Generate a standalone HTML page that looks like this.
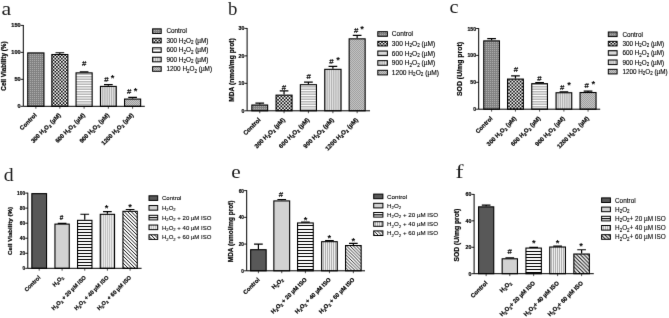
<!DOCTYPE html><html><head><meta charset="utf-8"><title>Figure</title>
<style>html,body{margin:0;padding:0;background:#fff}body{width:669px;height:318px;overflow:hidden}svg{display:block}
.s{font-family:"Liberation Sans",sans-serif}.b{font-family:"Liberation Sans",sans-serif;font-weight:bold}.r{font-family:"Liberation Serif",serif}
</style></head><body>
<svg width="669" height="318" viewBox="0 0 669 318">
<defs>
<pattern id="pdot" width="2" height="2" patternUnits="userSpaceOnUse"><rect width="2" height="2" fill="#828282"/><rect x="0" y="0" width="1" height="1" fill="#adadad"/></pattern>
<pattern id="pchk" width="33" height="33" patternUnits="userSpaceOnUse"><rect width="33" height="33" fill="#fff"/><path d="M0 0.825H34.65" stroke="#0c0c0c" stroke-width="1.65" stroke-dasharray="1.65 1.65" fill="none"/><path d="M1.65 2.475H34.65" stroke="#0c0c0c" stroke-width="1.65" stroke-dasharray="1.65 1.65" fill="none"/><path d="M0 4.125H34.65" stroke="#0c0c0c" stroke-width="1.65" stroke-dasharray="1.65 1.65" fill="none"/><path d="M1.65 5.775H34.65" stroke="#0c0c0c" stroke-width="1.65" stroke-dasharray="1.65 1.65" fill="none"/><path d="M0 7.425H34.65" stroke="#0c0c0c" stroke-width="1.65" stroke-dasharray="1.65 1.65" fill="none"/><path d="M1.65 9.075H34.65" stroke="#0c0c0c" stroke-width="1.65" stroke-dasharray="1.65 1.65" fill="none"/><path d="M0 10.725H34.65" stroke="#0c0c0c" stroke-width="1.65" stroke-dasharray="1.65 1.65" fill="none"/><path d="M1.65 12.375H34.65" stroke="#0c0c0c" stroke-width="1.65" stroke-dasharray="1.65 1.65" fill="none"/><path d="M0 14.025H34.65" stroke="#0c0c0c" stroke-width="1.65" stroke-dasharray="1.65 1.65" fill="none"/><path d="M1.65 15.675H34.65" stroke="#0c0c0c" stroke-width="1.65" stroke-dasharray="1.65 1.65" fill="none"/><path d="M0 17.325H34.65" stroke="#0c0c0c" stroke-width="1.65" stroke-dasharray="1.65 1.65" fill="none"/><path d="M1.65 18.975H34.65" stroke="#0c0c0c" stroke-width="1.65" stroke-dasharray="1.65 1.65" fill="none"/><path d="M0 20.625H34.65" stroke="#0c0c0c" stroke-width="1.65" stroke-dasharray="1.65 1.65" fill="none"/><path d="M1.65 22.275H34.65" stroke="#0c0c0c" stroke-width="1.65" stroke-dasharray="1.65 1.65" fill="none"/><path d="M0 23.925H34.65" stroke="#0c0c0c" stroke-width="1.65" stroke-dasharray="1.65 1.65" fill="none"/><path d="M1.65 25.575H34.65" stroke="#0c0c0c" stroke-width="1.65" stroke-dasharray="1.65 1.65" fill="none"/><path d="M0 27.225H34.65" stroke="#0c0c0c" stroke-width="1.65" stroke-dasharray="1.65 1.65" fill="none"/><path d="M1.65 28.875H34.65" stroke="#0c0c0c" stroke-width="1.65" stroke-dasharray="1.65 1.65" fill="none"/><path d="M0 30.525H34.65" stroke="#0c0c0c" stroke-width="1.65" stroke-dasharray="1.65 1.65" fill="none"/><path d="M1.65 32.175H34.65" stroke="#0c0c0c" stroke-width="1.65" stroke-dasharray="1.65 1.65" fill="none"/></pattern>
<pattern id="phor" width="2" height="5" patternUnits="userSpaceOnUse"><rect width="2" height="5" fill="#fff"/><rect x="0" y="1" width="2" height="1" fill="#b8b8b8"/><rect x="0" y="2" width="2" height="2" fill="#dadada"/><rect x="0" y="4" width="2" height="1" fill="#b8b8b8"/></pattern>
<pattern id="pver" width="11.000" height="10" patternUnits="userSpaceOnUse"><rect width="11.000" height="10" fill="#eaeaea"/><path d="M0.90 0v10h1.30v-10zM3.10 0v10h1.30v-10zM5.30 0v10h1.30v-10zM7.50 0v10h1.30v-10zM9.70 0v10h1.30v-10z" fill="#b4b4b4"/></pattern>
<pattern id="pdia" width="4" height="4" patternUnits="userSpaceOnUse"><rect width="4" height="4" fill="#9c9c9c"/><path d="M-1.00 -7.00L5.00 -13.00M-1.00 -5.00L5.00 -11.00M-1.00 -3.00L5.00 -9.00M-1.00 -1.00L5.00 -7.00M-1.00 1.00L5.00 -5.00M-1.00 3.00L5.00 -3.00M-1.00 5.00L5.00 -1.00M-1.00 7.00L5.00 1.00M-1.00 9.00L5.00 3.00" stroke="#e4e4e4" stroke-width="0.6" fill="none"/></pattern>
<pattern id="phorb" width="2" height="4" patternUnits="userSpaceOnUse"><rect width="2" height="4" fill="#fff"/><rect x="0" y="0" width="2" height="1.8" fill="#111"/></pattern>
<pattern id="pverb" width="2" height="2" patternUnits="userSpaceOnUse"><rect width="2" height="2" fill="#fff"/><rect x="0.8" y="0" width="1.2" height="2" fill="#b0b0b0"/></pattern>
<pattern id="pdiabd" width="7" height="7" patternUnits="userSpaceOnUse"><rect width="7" height="7" fill="#fff"/><path d="M-1.00 -22.00L8.00 -13.00M-1.00 -18.50L8.00 -9.50M-1.00 -15.00L8.00 -6.00M-1.00 -11.50L8.00 -2.50M-1.00 -8.00L8.00 1.00M-1.00 -4.50L8.00 4.50M-1.00 -1.00L8.00 8.00M-1.00 2.50L8.00 11.50M-1.00 6.00L8.00 15.00" stroke="#000" stroke-width="0.92" fill="none"/></pattern>
<pattern id="pdiabe" width="6.5" height="6.5" patternUnits="userSpaceOnUse"><rect width="6.5" height="6.5" fill="#fff"/><path d="M-1.00 -20.50L7.50 -12.00M-1.00 -17.25L7.50 -8.75M-1.00 -14.00L7.50 -5.50M-1.00 -10.75L7.50 -2.25M-1.00 -7.50L7.50 1.00M-1.00 -4.25L7.50 4.25M-1.00 -1.00L7.50 7.50M-1.00 2.25L7.50 10.75M-1.00 5.50L7.50 14.00" stroke="#000" stroke-width="0.86" fill="none"/></pattern>
<pattern id="pdiabf" width="7.4" height="7.4" patternUnits="userSpaceOnUse"><rect width="7.4" height="7.4" fill="#fff"/><path d="M-1.00 -23.20L8.40 -13.80M-1.00 -19.50L8.40 -10.10M-1.00 -15.80L8.40 -6.40M-1.00 -12.10L8.40 -2.70M-1.00 -8.40L8.40 1.00M-1.00 -4.70L8.40 4.70M-1.00 -1.00L8.40 8.40M-1.00 2.70L8.40 12.10M-1.00 6.40L8.40 15.80" stroke="#000" stroke-width="0.98" fill="none"/></pattern>
<pattern id="pverbd" width="2" height="2" patternUnits="userSpaceOnUse"><rect width="2" height="2" fill="#fff"/><rect x="0.7" y="0" width="1.3" height="2" fill="#c2c2c2"/></pattern>
<filter id="soft" x="0" y="0" width="669" height="318" filterUnits="userSpaceOnUse" color-interpolation-filters="sRGB"><feConvolveMatrix order="3" kernelMatrix="0 1 0 1 11 1 0 1 0" edgeMode="duplicate" preserveAlpha="true"/></filter>
</defs>
<g filter="url(#soft)">
<rect width="669" height="318" fill="#fff"/>
<g>
<text class="r" transform="translate(1.5 14.7) scale(1.18 1)" font-size="18.5" fill="#1c1c1c">a</text>
<rect x="27.75" y="52.92" width="16.20" height="53.38" fill="url(#pdot)" stroke="#000" stroke-width="1.10"/>
<path d="M35.85 106.30V108.70" stroke="#222" stroke-width="0.8"/>
<path d="M59.85 53.98V52.74M55.50 52.74H64.20" stroke="#000" stroke-width="1.2" fill="none"/>
<rect x="51.85" y="54.53" width="16.00" height="51.77" fill="url(#pchk)" stroke="#000" stroke-width="1.10"/>
<path d="M59.85 106.30V108.70" stroke="#222" stroke-width="0.8"/>
<path d="M84.10 72.32V71.88M79.75 71.88H88.45" stroke="#000" stroke-width="1.2" fill="none"/>
<rect x="76.05" y="72.87" width="16.10" height="33.43" fill="url(#phor)" stroke="#000" stroke-width="1.10"/>
<path d="M84.10 106.30V108.70" stroke="#222" stroke-width="0.8"/>
<path d="M108.35 85.86V84.56M104.00 84.56H112.70" stroke="#000" stroke-width="1.2" fill="none"/>
<rect x="100.45" y="86.41" width="15.80" height="19.89" fill="url(#pver)" stroke="#000" stroke-width="1.10"/>
<path d="M108.35 106.30V108.70" stroke="#222" stroke-width="0.8"/>
<path d="M132.60 98.53V97.34M128.25 97.34H136.95" stroke="#000" stroke-width="1.2" fill="none"/>
<rect x="124.55" y="99.08" width="16.10" height="7.22" fill="url(#pdia)" stroke="#000" stroke-width="1.10"/>
<path d="M132.60 106.30V108.70" stroke="#222" stroke-width="0.8"/>
<path d="M23.30 25.00V106.30H144.80" stroke="#000" stroke-width="1" fill="none"/>
<path d="M20.70 106.30H23.30" stroke="#000" stroke-width="0.9"/>
<text class="b" transform="translate(20.60 108.33) scale(0.90 1)" font-size="6.20" text-anchor="end" fill="#000" stroke="#000" stroke-width="0.2">0</text>
<path d="M20.70 79.33H23.30" stroke="#000" stroke-width="0.9"/>
<text class="b" transform="translate(20.60 81.37) scale(0.90 1)" font-size="6.20" text-anchor="end" fill="#000" stroke="#000" stroke-width="0.2">50</text>
<path d="M20.70 52.37H23.30" stroke="#000" stroke-width="0.9"/>
<text class="b" transform="translate(20.60 54.40) scale(0.90 1)" font-size="6.20" text-anchor="end" fill="#000" stroke="#000" stroke-width="0.2">100</text>
<path d="M20.70 25.40H23.30" stroke="#000" stroke-width="0.9"/>
<text class="b" transform="translate(20.60 27.43) scale(0.90 1)" font-size="6.20" text-anchor="end" fill="#000" stroke="#000" stroke-width="0.2">150</text>
<text class="b" transform="translate(6.40 66.00) rotate(-90)" font-size="6.35" text-anchor="middle" fill="#000" stroke="#000" stroke-width="0.2">Cell Viability (%)</text>
<text class="b" transform="translate(37.05 115.60) rotate(-45)" font-size="5.95" text-anchor="end" fill="#000" stroke="#000" stroke-width="0.2">Control</text>
<text class="b" transform="translate(61.05 115.60) rotate(-45)" font-size="5.95" text-anchor="end" fill="#000" stroke="#000" stroke-width="0.2">300 H<tspan dy="1.31" font-size="4.17">2</tspan><tspan dy="-1.31">O</tspan><tspan dy="1.31" font-size="4.17">2</tspan><tspan dy="-1.31"> (µM)</tspan></text>
<text class="b" transform="translate(85.30 115.60) rotate(-45)" font-size="5.95" text-anchor="end" fill="#000" stroke="#000" stroke-width="0.2">600 H<tspan dy="1.31" font-size="4.17">2</tspan><tspan dy="-1.31">O</tspan><tspan dy="1.31" font-size="4.17">2</tspan><tspan dy="-1.31"> (µM)</tspan></text>
<text class="b" transform="translate(109.55 115.60) rotate(-45)" font-size="5.95" text-anchor="end" fill="#000" stroke="#000" stroke-width="0.2">900 H<tspan dy="1.31" font-size="4.17">2</tspan><tspan dy="-1.31">O</tspan><tspan dy="1.31" font-size="4.17">2</tspan><tspan dy="-1.31"> (µM)</tspan></text>
<text class="b" transform="translate(133.80 115.60) rotate(-45)" font-size="5.95" text-anchor="end" fill="#000" stroke="#000" stroke-width="0.2">1200 H<tspan dy="1.31" font-size="4.17">2</tspan><tspan dy="-1.31">O</tspan><tspan dy="1.31" font-size="4.17">2</tspan><tspan dy="-1.31"> (µM)</tspan></text>
<rect x="152.60" y="28.85" width="8.60" height="4.60" fill="url(#pdot)" stroke="#000" stroke-width="1.00"/>
<text class="s" x="166.40" y="33.45" font-size="6.40" fill="#000" stroke="#000" stroke-width="0.12">Control</text>
<rect x="152.60" y="38.31" width="8.60" height="4.60" fill="url(#pchk)" stroke="#000" stroke-width="1.00"/>
<text class="s" x="166.40" y="42.91" font-size="6.40" fill="#000" stroke="#000" stroke-width="0.12">300 H<tspan dy="1.41" font-size="4.48">2</tspan><tspan dy="-1.41">O</tspan><tspan dy="1.41" font-size="4.48">2</tspan><tspan dy="-1.41"> (µM)</tspan></text>
<rect x="152.60" y="47.77" width="8.60" height="4.60" fill="url(#phor)" stroke="#000" stroke-width="1.00"/>
<text class="s" x="166.40" y="52.37" font-size="6.40" fill="#000" stroke="#000" stroke-width="0.12">600 H<tspan dy="1.41" font-size="4.48">2</tspan><tspan dy="-1.41">O</tspan><tspan dy="1.41" font-size="4.48">2</tspan><tspan dy="-1.41"> (µM)</tspan></text>
<rect x="152.60" y="57.23" width="8.60" height="4.60" fill="url(#pver)" stroke="#000" stroke-width="1.00"/>
<text class="s" x="166.40" y="61.83" font-size="6.40" fill="#000" stroke="#000" stroke-width="0.12">900 H<tspan dy="1.41" font-size="4.48">2</tspan><tspan dy="-1.41">O</tspan><tspan dy="1.41" font-size="4.48">2</tspan><tspan dy="-1.41"> (µM)</tspan></text>
<rect x="152.60" y="66.69" width="8.60" height="4.60" fill="url(#pdia)" stroke="#000" stroke-width="1.00"/>
<text class="s" x="166.40" y="71.29" font-size="6.40" fill="#000" stroke="#000" stroke-width="0.12">1200 H<tspan dy="1.41" font-size="4.48">2</tspan><tspan dy="-1.41">O</tspan><tspan dy="1.41" font-size="4.48">2</tspan><tspan dy="-1.41"> (µM)</tspan></text>
<text class="s" x="84.10" y="66.47" font-size="7.8" text-anchor="middle" fill="#000" stroke="#000" stroke-width="0.2">#</text>
<text class="s" x="106.30" y="82.37" font-size="7.8" text-anchor="middle" fill="#000" stroke="#000" stroke-width="0.2">#</text>
<text class="b" x="112.70" y="81.02" font-size="9.4" text-anchor="middle" fill="#000">*</text>
<text class="s" x="129.20" y="94.47" font-size="7.8" text-anchor="middle" fill="#000" stroke="#000" stroke-width="0.2">#</text>
<text class="b" x="135.50" y="93.72" font-size="9.4" text-anchor="middle" fill="#000">*</text>
</g>
<g>
<text class="r" transform="translate(228.1 14.9) scale(0.95 1)" font-size="19.8" fill="#1c1c1c">b</text>
<path d="M259.75 104.48V103.21M255.40 103.21H264.10" stroke="#000" stroke-width="1.2" fill="none"/>
<rect x="251.85" y="105.03" width="15.80" height="5.77" fill="url(#pdot)" stroke="#000" stroke-width="1.10"/>
<path d="M259.75 110.80V113.20" stroke="#222" stroke-width="0.8"/>
<path d="M284.05 94.59V90.85M279.70 90.85H288.40" stroke="#000" stroke-width="1.2" fill="none"/>
<rect x="276.05" y="95.14" width="16.00" height="15.66" fill="url(#pchk)" stroke="#000" stroke-width="1.10"/>
<path d="M284.05 110.80V113.20" stroke="#222" stroke-width="0.8"/>
<path d="M308.40 84.16V82.06M304.05 82.06H312.75" stroke="#000" stroke-width="1.2" fill="none"/>
<rect x="300.35" y="84.71" width="16.10" height="26.09" fill="url(#phor)" stroke="#000" stroke-width="1.10"/>
<path d="M308.40 110.80V113.20" stroke="#222" stroke-width="0.8"/>
<path d="M332.90 68.78V66.40M328.55 66.40H337.25" stroke="#000" stroke-width="1.2" fill="none"/>
<rect x="324.75" y="69.33" width="16.30" height="41.47" fill="url(#pver)" stroke="#000" stroke-width="1.10"/>
<path d="M332.90 110.80V113.20" stroke="#222" stroke-width="0.8"/>
<path d="M357.15 38.29V35.37M352.80 35.37H361.50" stroke="#000" stroke-width="1.2" fill="none"/>
<rect x="349.15" y="38.84" width="16.00" height="71.96" fill="url(#pdia)" stroke="#000" stroke-width="1.10"/>
<path d="M357.15 110.80V113.20" stroke="#222" stroke-width="0.8"/>
<path d="M247.10 28.00V110.80H370.00" stroke="#000" stroke-width="1" fill="none"/>
<path d="M244.50 110.80H247.10" stroke="#000" stroke-width="0.9"/>
<text class="b" transform="translate(244.40 112.83) scale(0.85 1)" font-size="6.20" text-anchor="end" fill="#000" stroke="#000" stroke-width="0.2">0</text>
<path d="M244.50 83.33H247.10" stroke="#000" stroke-width="0.9"/>
<text class="b" transform="translate(244.40 85.37) scale(0.85 1)" font-size="6.20" text-anchor="end" fill="#000" stroke="#000" stroke-width="0.2">10</text>
<path d="M244.50 55.87H247.10" stroke="#000" stroke-width="0.9"/>
<text class="b" transform="translate(244.40 57.90) scale(0.85 1)" font-size="6.20" text-anchor="end" fill="#000" stroke="#000" stroke-width="0.2">20</text>
<path d="M244.50 28.40H247.10" stroke="#000" stroke-width="0.9"/>
<text class="b" transform="translate(244.40 30.43) scale(0.85 1)" font-size="6.20" text-anchor="end" fill="#000" stroke="#000" stroke-width="0.2">30</text>
<text class="b" transform="translate(234.00 70.00) rotate(-90)" font-size="6.65" text-anchor="middle" fill="#000" stroke="#000" stroke-width="0.2">MDA (nmol/mg prot)</text>
<text class="b" transform="translate(261.05 120.30) rotate(-45)" font-size="6.10" text-anchor="end" fill="#000" stroke="#000" stroke-width="0.2">Control</text>
<text class="b" transform="translate(285.35 120.30) rotate(-45)" font-size="6.10" text-anchor="end" fill="#000" stroke="#000" stroke-width="0.2">300 H<tspan dy="1.34" font-size="4.27">2</tspan><tspan dy="-1.34">O</tspan><tspan dy="1.34" font-size="4.27">2</tspan><tspan dy="-1.34"> (µM)</tspan></text>
<text class="b" transform="translate(309.70 120.30) rotate(-45)" font-size="6.10" text-anchor="end" fill="#000" stroke="#000" stroke-width="0.2">600 H<tspan dy="1.34" font-size="4.27">2</tspan><tspan dy="-1.34">O</tspan><tspan dy="1.34" font-size="4.27">2</tspan><tspan dy="-1.34"> (µM)</tspan></text>
<text class="b" transform="translate(334.20 120.30) rotate(-45)" font-size="6.10" text-anchor="end" fill="#000" stroke="#000" stroke-width="0.2">900 H<tspan dy="1.34" font-size="4.27">2</tspan><tspan dy="-1.34">O</tspan><tspan dy="1.34" font-size="4.27">2</tspan><tspan dy="-1.34"> (µM)</tspan></text>
<text class="b" transform="translate(358.45 120.30) rotate(-45)" font-size="6.10" text-anchor="end" fill="#000" stroke="#000" stroke-width="0.2">1200 H<tspan dy="1.34" font-size="4.27">2</tspan><tspan dy="-1.34">O</tspan><tspan dy="1.34" font-size="4.27">2</tspan><tspan dy="-1.34"> (µM)</tspan></text>
<rect x="377.80" y="31.70" width="9.60" height="4.60" fill="url(#pdot)" stroke="#000" stroke-width="1.00"/>
<text class="s" x="391.80" y="36.38" font-size="6.60" fill="#000" stroke="#000" stroke-width="0.12">Control</text>
<rect x="377.80" y="41.35" width="9.60" height="4.60" fill="url(#pchk)" stroke="#000" stroke-width="1.00"/>
<text class="s" x="391.80" y="46.03" font-size="6.60" fill="#000" stroke="#000" stroke-width="0.12">300 H<tspan dy="1.45" font-size="4.62">2</tspan><tspan dy="-1.45">O</tspan><tspan dy="1.45" font-size="4.62">2</tspan><tspan dy="-1.45"> (µM)</tspan></text>
<rect x="377.80" y="51.00" width="9.60" height="4.60" fill="url(#phor)" stroke="#000" stroke-width="1.00"/>
<text class="s" x="391.80" y="55.68" font-size="6.60" fill="#000" stroke="#000" stroke-width="0.12">600 H<tspan dy="1.45" font-size="4.62">2</tspan><tspan dy="-1.45">O</tspan><tspan dy="1.45" font-size="4.62">2</tspan><tspan dy="-1.45"> (µM)</tspan></text>
<rect x="377.80" y="60.65" width="9.60" height="4.60" fill="url(#pver)" stroke="#000" stroke-width="1.00"/>
<text class="s" x="391.80" y="65.33" font-size="6.60" fill="#000" stroke="#000" stroke-width="0.12">900 H<tspan dy="1.45" font-size="4.62">2</tspan><tspan dy="-1.45">O</tspan><tspan dy="1.45" font-size="4.62">2</tspan><tspan dy="-1.45"> (µM)</tspan></text>
<rect x="377.80" y="70.30" width="9.60" height="4.60" fill="url(#pdia)" stroke="#000" stroke-width="1.00"/>
<text class="s" x="391.80" y="74.98" font-size="6.60" fill="#000" stroke="#000" stroke-width="0.12">1200 H<tspan dy="1.45" font-size="4.62">2</tspan><tspan dy="-1.45">O</tspan><tspan dy="1.45" font-size="4.62">2</tspan><tspan dy="-1.45"> (µM)</tspan></text>
<text class="s" x="283.90" y="89.67" font-size="7.8" text-anchor="middle" fill="#000" stroke="#000" stroke-width="0.2">#</text>
<text class="s" x="308.60" y="79.17" font-size="7.8" text-anchor="middle" fill="#000" stroke="#000" stroke-width="0.2">#</text>
<text class="s" x="331.50" y="64.07" font-size="7.8" text-anchor="middle" fill="#000" stroke="#000" stroke-width="0.2">#</text>
<text class="b" x="338.00" y="63.02" font-size="9.4" text-anchor="middle" fill="#000">*</text>
<text class="s" x="356.10" y="33.17" font-size="7.8" text-anchor="middle" fill="#000" stroke="#000" stroke-width="0.2">#</text>
<text class="b" x="362.10" y="31.82" font-size="9.4" text-anchor="middle" fill="#000">*</text>
</g>
<g>
<text class="r" transform="translate(449.5 12.6) scale(1.10 1)" font-size="18.5" fill="#1c1c1c">c</text>
<path d="M491.60 40.34V38.61M487.25 38.61H495.95" stroke="#000" stroke-width="1.2" fill="none"/>
<rect x="483.75" y="40.89" width="15.70" height="68.31" fill="url(#pdot)" stroke="#000" stroke-width="1.10"/>
<path d="M491.60 109.20V111.60" stroke="#222" stroke-width="0.8"/>
<path d="M515.45 78.53V75.94M511.10 75.94H519.80" stroke="#000" stroke-width="1.2" fill="none"/>
<rect x="507.55" y="79.08" width="15.80" height="30.12" fill="url(#pchk)" stroke="#000" stroke-width="1.10"/>
<path d="M515.45 109.20V111.60" stroke="#222" stroke-width="0.8"/>
<path d="M539.60 83.11V82.51M535.25 82.51H543.95" stroke="#000" stroke-width="1.2" fill="none"/>
<rect x="531.75" y="83.66" width="15.70" height="25.54" fill="url(#phor)" stroke="#000" stroke-width="1.10"/>
<path d="M539.60 109.20V111.60" stroke="#222" stroke-width="0.8"/>
<path d="M563.90 92.20V91.92M559.55 91.92H568.25" stroke="#000" stroke-width="1.2" fill="none"/>
<rect x="556.05" y="92.75" width="15.70" height="16.45" fill="url(#pver)" stroke="#000" stroke-width="1.10"/>
<path d="M563.90 109.20V111.60" stroke="#222" stroke-width="0.8"/>
<path d="M588.05 91.98V91.22M583.70 91.22H592.40" stroke="#000" stroke-width="1.2" fill="none"/>
<rect x="580.05" y="92.53" width="16.00" height="16.67" fill="url(#pdia)" stroke="#000" stroke-width="1.10"/>
<path d="M588.05 109.20V111.60" stroke="#222" stroke-width="0.8"/>
<path d="M478.70 28.10V109.20H600.20" stroke="#000" stroke-width="1" fill="none"/>
<path d="M476.10 109.20H478.70" stroke="#000" stroke-width="0.9"/>
<text class="b" transform="translate(476.00 111.23) scale(0.83 1)" font-size="6.20" text-anchor="end" fill="#000" stroke="#000" stroke-width="0.2">0</text>
<path d="M476.10 82.30H478.70" stroke="#000" stroke-width="0.9"/>
<text class="b" transform="translate(476.00 84.33) scale(0.83 1)" font-size="6.20" text-anchor="end" fill="#000" stroke="#000" stroke-width="0.2">50</text>
<path d="M476.10 55.40H478.70" stroke="#000" stroke-width="0.9"/>
<text class="b" transform="translate(476.00 57.43) scale(0.83 1)" font-size="6.20" text-anchor="end" fill="#000" stroke="#000" stroke-width="0.2">100</text>
<path d="M476.10 28.50H478.70" stroke="#000" stroke-width="0.9"/>
<text class="b" transform="translate(476.00 30.53) scale(0.83 1)" font-size="6.20" text-anchor="end" fill="#000" stroke="#000" stroke-width="0.2">150</text>
<text class="b" transform="translate(462.30 69.00) rotate(-90)" font-size="6.90" text-anchor="middle" fill="#000" stroke="#000" stroke-width="0.2">SOD (U/mg prot)</text>
<text class="b" transform="translate(492.90 118.80) rotate(-45)" font-size="5.95" text-anchor="end" fill="#000" stroke="#000" stroke-width="0.2">Control</text>
<text class="b" transform="translate(516.75 118.80) rotate(-45)" font-size="5.95" text-anchor="end" fill="#000" stroke="#000" stroke-width="0.2">300 H<tspan dy="1.31" font-size="4.17">2</tspan><tspan dy="-1.31">O</tspan><tspan dy="1.31" font-size="4.17">2</tspan><tspan dy="-1.31"> (µM)</tspan></text>
<text class="b" transform="translate(540.90 118.80) rotate(-45)" font-size="5.95" text-anchor="end" fill="#000" stroke="#000" stroke-width="0.2">600 H<tspan dy="1.31" font-size="4.17">2</tspan><tspan dy="-1.31">O</tspan><tspan dy="1.31" font-size="4.17">2</tspan><tspan dy="-1.31"> (µM)</tspan></text>
<text class="b" transform="translate(565.20 118.80) rotate(-45)" font-size="5.95" text-anchor="end" fill="#000" stroke="#000" stroke-width="0.2">900 H<tspan dy="1.31" font-size="4.17">2</tspan><tspan dy="-1.31">O</tspan><tspan dy="1.31" font-size="4.17">2</tspan><tspan dy="-1.31"> (µM)</tspan></text>
<text class="b" transform="translate(589.35 118.80) rotate(-45)" font-size="5.95" text-anchor="end" fill="#000" stroke="#000" stroke-width="0.2">1200 H<tspan dy="1.31" font-size="4.17">2</tspan><tspan dy="-1.31">O</tspan><tspan dy="1.31" font-size="4.17">2</tspan><tspan dy="-1.31"> (µM)</tspan></text>
<rect x="608.30" y="32.00" width="8.80" height="4.60" fill="url(#pdot)" stroke="#000" stroke-width="1.00"/>
<text class="s" x="622.40" y="36.59" font-size="6.35" fill="#000" stroke="#000" stroke-width="0.12">Control</text>
<rect x="608.30" y="41.33" width="8.80" height="4.60" fill="url(#pchk)" stroke="#000" stroke-width="1.00"/>
<text class="s" x="622.40" y="45.92" font-size="6.35" fill="#000" stroke="#000" stroke-width="0.12">300 H<tspan dy="1.40" font-size="4.44">2</tspan><tspan dy="-1.40">O</tspan><tspan dy="1.40" font-size="4.44">2</tspan><tspan dy="-1.40"> (µM)</tspan></text>
<rect x="608.30" y="50.66" width="8.80" height="4.60" fill="url(#phor)" stroke="#000" stroke-width="1.00"/>
<text class="s" x="622.40" y="55.25" font-size="6.35" fill="#000" stroke="#000" stroke-width="0.12">600 H<tspan dy="1.40" font-size="4.44">2</tspan><tspan dy="-1.40">O</tspan><tspan dy="1.40" font-size="4.44">2</tspan><tspan dy="-1.40"> (µM)</tspan></text>
<rect x="608.30" y="59.99" width="8.80" height="4.60" fill="url(#pver)" stroke="#000" stroke-width="1.00"/>
<text class="s" x="622.40" y="64.58" font-size="6.35" fill="#000" stroke="#000" stroke-width="0.12">900 H<tspan dy="1.40" font-size="4.44">2</tspan><tspan dy="-1.40">O</tspan><tspan dy="1.40" font-size="4.44">2</tspan><tspan dy="-1.40"> (µM)</tspan></text>
<rect x="608.30" y="69.32" width="8.80" height="4.60" fill="url(#pdia)" stroke="#000" stroke-width="1.00"/>
<text class="s" x="622.40" y="73.91" font-size="6.35" fill="#000" stroke="#000" stroke-width="0.12">1200 H<tspan dy="1.40" font-size="4.44">2</tspan><tspan dy="-1.40">O</tspan><tspan dy="1.40" font-size="4.44">2</tspan><tspan dy="-1.40"> (µM)</tspan></text>
<text class="s" x="516.00" y="72.37" font-size="7.8" text-anchor="middle" fill="#000" stroke="#000" stroke-width="0.2">#</text>
<text class="s" x="539.40" y="81.07" font-size="7.8" text-anchor="middle" fill="#000" stroke="#000" stroke-width="0.2">#</text>
<text class="s" x="562.20" y="89.67" font-size="7.8" text-anchor="middle" fill="#000" stroke="#000" stroke-width="0.2">#</text>
<text class="b" x="569.00" y="88.12" font-size="9.4" text-anchor="middle" fill="#000">*</text>
<text class="s" x="586.70" y="88.17" font-size="7.8" text-anchor="middle" fill="#000" stroke="#000" stroke-width="0.2">#</text>
<text class="b" x="593.40" y="86.82" font-size="9.4" text-anchor="middle" fill="#000">*</text>
</g>
<g>
<text class="r" transform="translate(3.8 181.4) scale(1.00 1)" font-size="19.8" fill="#1c1c1c">d</text>
<rect x="31.85" y="193.65" width="14.70" height="74.65" fill="#585858" stroke="#000" stroke-width="1.10"/>
<path d="M39.20 268.30V270.70" stroke="#222" stroke-width="0.8"/>
<path d="M62.10 223.56V223.28M57.75 223.28H66.45" stroke="#000" stroke-width="1.2" fill="none"/>
<rect x="54.95" y="224.11" width="14.30" height="44.19" fill="#d2d2d2" stroke="#000" stroke-width="1.10"/>
<path d="M62.10 268.30V270.70" stroke="#222" stroke-width="0.8"/>
<path d="M84.75 219.80V214.26M80.40 214.26H89.10" stroke="#000" stroke-width="1.2" fill="none"/>
<rect x="77.55" y="220.35" width="14.40" height="47.95" fill="#fff"/>
<path d="M77.50 223h14.50v1.00h-14.50zM77.50 226h14.50v1.00h-14.50zM77.50 229h14.50v1.00h-14.50zM77.50 232h14.50v1.00h-14.50zM77.50 235h14.50v1.00h-14.50zM77.50 238h14.50v1.00h-14.50zM77.50 241h14.50v1.00h-14.50zM77.50 244h14.50v1.00h-14.50zM77.50 247h14.50v1.00h-14.50zM77.50 250h14.50v1.00h-14.50zM77.50 253h14.50v1.00h-14.50zM77.50 256h14.50v1.00h-14.50zM77.50 259h14.50v1.00h-14.50zM77.50 262h14.50v1.00h-14.50zM77.50 265h14.50v1.00h-14.50z" fill="#000"/>
<rect x="77.55" y="220.35" width="14.40" height="47.95" fill="none" stroke="#000" stroke-width="1.10"/>
<path d="M84.75 268.30V270.70" stroke="#222" stroke-width="0.8"/>
<path d="M107.40 213.78V211.62M103.05 211.62H111.75" stroke="#000" stroke-width="1.2" fill="none"/>
<rect x="100.25" y="214.33" width="14.30" height="53.97" fill="url(#pverbd)" stroke="#000" stroke-width="1.10"/>
<path d="M107.40 268.30V270.70" stroke="#222" stroke-width="0.8"/>
<path d="M130.10 210.77V209.52M125.75 209.52H134.45" stroke="#000" stroke-width="1.2" fill="none"/>
<rect x="122.95" y="211.32" width="14.30" height="56.98" fill="url(#pdiabd)" stroke="#000" stroke-width="1.10"/>
<path d="M130.10 268.30V270.70" stroke="#222" stroke-width="0.8"/>
<path d="M27.80 192.70V268.30H141.60" stroke="#000" stroke-width="1" fill="none"/>
<path d="M25.20 268.30H27.80" stroke="#000" stroke-width="0.9"/>
<text class="b" transform="translate(25.10 270.26) scale(0.80 1)" font-size="6.00" text-anchor="end" fill="#000" stroke="#000" stroke-width="0.2">0</text>
<path d="M25.20 253.26H27.80" stroke="#000" stroke-width="0.9"/>
<text class="b" transform="translate(25.10 255.22) scale(0.80 1)" font-size="6.00" text-anchor="end" fill="#000" stroke="#000" stroke-width="0.2">20</text>
<path d="M25.20 238.22H27.80" stroke="#000" stroke-width="0.9"/>
<text class="b" transform="translate(25.10 240.18) scale(0.80 1)" font-size="6.00" text-anchor="end" fill="#000" stroke="#000" stroke-width="0.2">40</text>
<path d="M25.20 223.18H27.80" stroke="#000" stroke-width="0.9"/>
<text class="b" transform="translate(25.10 225.14) scale(0.80 1)" font-size="6.00" text-anchor="end" fill="#000" stroke="#000" stroke-width="0.2">60</text>
<path d="M25.20 208.14H27.80" stroke="#000" stroke-width="0.9"/>
<text class="b" transform="translate(25.10 210.10) scale(0.80 1)" font-size="6.00" text-anchor="end" fill="#000" stroke="#000" stroke-width="0.2">80</text>
<path d="M25.20 193.10H27.80" stroke="#000" stroke-width="0.9"/>
<text class="b" transform="translate(25.10 195.06) scale(0.80 1)" font-size="6.00" text-anchor="end" fill="#000" stroke="#000" stroke-width="0.2">100</text>
<text class="b" transform="translate(11.70 230.90) rotate(-90)" font-size="6.20" text-anchor="middle" fill="#000" stroke="#000" stroke-width="0.2">Cell Viability (%)</text>
<text class="b" transform="translate(40.80 277.90) rotate(-45)" font-size="5.60" text-anchor="end" fill="#000" stroke="#000" stroke-width="0.2">Control</text>
<text class="b" transform="translate(63.70 277.90) rotate(-45)" font-size="5.60" text-anchor="end" fill="#000" stroke="#000" stroke-width="0.2">H<tspan dy="1.23" font-size="3.92">2</tspan><tspan dy="-1.23">O</tspan><tspan dy="1.23" font-size="3.92">2</tspan><tspan dy="-1.23"></tspan></text>
<text class="b" transform="translate(86.35 277.90) rotate(-45)" font-size="5.60" text-anchor="end" fill="#000" stroke="#000" stroke-width="0.2">H<tspan dy="1.23" font-size="3.92">2</tspan><tspan dy="-1.23">O</tspan><tspan dy="1.23" font-size="3.92">2</tspan><tspan dy="-1.23"> + 20 µM ISO</tspan></text>
<text class="b" transform="translate(109.00 277.90) rotate(-45)" font-size="5.60" text-anchor="end" fill="#000" stroke="#000" stroke-width="0.2">H<tspan dy="1.23" font-size="3.92">2</tspan><tspan dy="-1.23">O</tspan><tspan dy="1.23" font-size="3.92">2</tspan><tspan dy="-1.23"> + 40 µM ISO</tspan></text>
<text class="b" transform="translate(131.70 277.90) rotate(-45)" font-size="5.60" text-anchor="end" fill="#000" stroke="#000" stroke-width="0.2">H<tspan dy="1.23" font-size="3.92">2</tspan><tspan dy="-1.23">O</tspan><tspan dy="1.23" font-size="3.92">2</tspan><tspan dy="-1.23"> + 60 µM ISO</tspan></text>
<rect x="149.00" y="195.80" width="8.70" height="4.60" fill="#585858" stroke="#000" stroke-width="1.00"/>
<text class="s" x="162.00" y="200.26" font-size="6.00" fill="#000" stroke="#000" stroke-width="0.1">Control</text>
<rect x="149.00" y="205.55" width="8.70" height="4.60" fill="#d2d2d2" stroke="#000" stroke-width="1.00"/>
<text class="s" x="162.00" y="210.01" font-size="6.00" fill="#000" stroke="#000" stroke-width="0.1">H<tspan dy="1.32" font-size="4.20">2</tspan><tspan dy="-1.32">O</tspan><tspan dy="1.32" font-size="4.20">2</tspan><tspan dy="-1.32"></tspan></text>
<rect x="149.00" y="215.30" width="8.70" height="4.60" fill="#fff" stroke="#000" stroke-width="1.00"/>
<path d="M149.00 217.60h8.70" stroke="#111" stroke-width="1.3"/>
<text class="s" x="162.00" y="219.76" font-size="6.00" fill="#000" stroke="#000" stroke-width="0.1">H<tspan dy="1.32" font-size="4.20">2</tspan><tspan dy="-1.32">O</tspan><tspan dy="1.32" font-size="4.20">2</tspan><tspan dy="-1.32"> + 20 µM ISO</tspan></text>
<rect x="149.00" y="225.05" width="8.70" height="4.60" fill="url(#pverbd)" stroke="#000" stroke-width="1.00"/>
<text class="s" x="162.00" y="229.51" font-size="6.00" fill="#000" stroke="#000" stroke-width="0.1">H<tspan dy="1.32" font-size="4.20">2</tspan><tspan dy="-1.32">O</tspan><tspan dy="1.32" font-size="4.20">2</tspan><tspan dy="-1.32"> + 40 µM ISO</tspan></text>
<rect x="149.00" y="234.80" width="8.70" height="4.60" fill="url(#pdiabd)" stroke="#000" stroke-width="1.00"/>
<text class="s" x="162.00" y="239.26" font-size="6.00" fill="#000" stroke="#000" stroke-width="0.1">H<tspan dy="1.32" font-size="4.20">2</tspan><tspan dy="-1.32">O</tspan><tspan dy="1.32" font-size="4.20">2</tspan><tspan dy="-1.32"> + 60 µM ISO</tspan></text>
<text class="s" x="61.60" y="220.05" font-size="6.3" text-anchor="middle" fill="#000" stroke="#000" stroke-width="0.2">#</text>
<text class="b" x="106.60" y="211.12" font-size="9.4" text-anchor="middle" fill="#000">*</text>
<text class="b" x="130.00" y="210.32" font-size="9.4" text-anchor="middle" fill="#000">*</text>
</g>
<g>
<text class="r" transform="translate(231.2 178.1) scale(1.15 1)" font-size="18.5" fill="#1c1c1c">e</text>
<path d="M258.40 249.15V244.17M254.05 244.17H262.75" stroke="#000" stroke-width="1.2" fill="none"/>
<rect x="250.65" y="249.70" width="15.50" height="21.10" fill="#585858" stroke="#000" stroke-width="1.10"/>
<path d="M258.40 270.80V273.20" stroke="#222" stroke-width="0.8"/>
<path d="M281.75 200.36V199.52M277.40 199.52H286.10" stroke="#000" stroke-width="1.2" fill="none"/>
<rect x="273.85" y="200.91" width="15.80" height="69.89" fill="#d2d2d2" stroke="#000" stroke-width="1.10"/>
<path d="M281.75 270.80V273.20" stroke="#222" stroke-width="0.8"/>
<path d="M305.40 222.41V222.11M301.05 222.11H309.75" stroke="#000" stroke-width="1.2" fill="none"/>
<rect x="297.55" y="222.96" width="15.70" height="47.84" fill="#fff"/>
<path d="M297.50 225h15.80v1.00h-15.80zM297.50 229h15.80v1.00h-15.80zM297.50 232h15.80v1.00h-15.80zM297.50 235h15.80v1.00h-15.80zM297.50 238h15.80v1.00h-15.80zM297.50 241h15.80v1.00h-15.80zM297.50 244h15.80v1.00h-15.80zM297.50 247h15.80v1.00h-15.80zM297.50 250h15.80v1.00h-15.80zM297.50 253h15.80v1.00h-15.80zM297.50 256h15.80v1.00h-15.80zM297.50 260h15.80v1.00h-15.80zM297.50 263h15.80v1.00h-15.80zM297.50 266h15.80v1.00h-15.80zM297.50 269h15.80v1.00h-15.80z" fill="#000"/>
<rect x="297.55" y="222.96" width="15.70" height="47.84" fill="none" stroke="#000" stroke-width="1.10"/>
<path d="M305.40 270.80V273.20" stroke="#222" stroke-width="0.8"/>
<path d="M329.45 241.13V240.56M325.10 240.56H333.80" stroke="#000" stroke-width="1.2" fill="none"/>
<rect x="321.65" y="241.68" width="15.60" height="29.12" fill="url(#pverb)" stroke="#000" stroke-width="1.10"/>
<path d="M329.45 270.80V273.20" stroke="#222" stroke-width="0.8"/>
<path d="M353.35 245.00V243.36M349.00 243.36H357.70" stroke="#000" stroke-width="1.2" fill="none"/>
<rect x="345.55" y="245.55" width="15.60" height="25.25" fill="url(#pdiabe)" stroke="#000" stroke-width="1.10"/>
<path d="M353.35 270.80V273.20" stroke="#222" stroke-width="0.8"/>
<path d="M246.70 190.20V270.80H365.00" stroke="#000" stroke-width="1" fill="none"/>
<path d="M244.10 270.80H246.70" stroke="#000" stroke-width="0.9"/>
<text class="b" transform="translate(244.00 272.76) scale(0.80 1)" font-size="6.00" text-anchor="end" fill="#000" stroke="#000" stroke-width="0.2">0</text>
<path d="M244.10 244.07H246.70" stroke="#000" stroke-width="0.9"/>
<text class="b" transform="translate(244.00 246.03) scale(0.80 1)" font-size="6.00" text-anchor="end" fill="#000" stroke="#000" stroke-width="0.2">20</text>
<path d="M244.10 217.33H246.70" stroke="#000" stroke-width="0.9"/>
<text class="b" transform="translate(244.00 219.29) scale(0.80 1)" font-size="6.00" text-anchor="end" fill="#000" stroke="#000" stroke-width="0.2">40</text>
<path d="M244.10 190.60H246.70" stroke="#000" stroke-width="0.9"/>
<text class="b" transform="translate(244.00 192.56) scale(0.80 1)" font-size="6.00" text-anchor="end" fill="#000" stroke="#000" stroke-width="0.2">60</text>
<text class="b" transform="translate(233.20 231.40) rotate(-90)" font-size="6.45" text-anchor="middle" fill="#000" stroke="#000" stroke-width="0.2">MDA (nmol/mg prot)</text>
<text class="b" transform="translate(260.10 280.10) rotate(-45)" font-size="5.82" text-anchor="end" fill="#000" stroke="#000" stroke-width="0.2">Control</text>
<text class="b" transform="translate(283.45 280.10) rotate(-45)" font-size="5.82" text-anchor="end" fill="#000" stroke="#000" stroke-width="0.2">H<tspan dy="1.28" font-size="4.07">2</tspan><tspan dy="-1.28">O</tspan><tspan dy="1.28" font-size="4.07">2</tspan><tspan dy="-1.28"></tspan></text>
<text class="b" transform="translate(307.10 280.10) rotate(-45)" font-size="5.82" text-anchor="end" fill="#000" stroke="#000" stroke-width="0.2">H<tspan dy="1.28" font-size="4.07">2</tspan><tspan dy="-1.28">O</tspan><tspan dy="1.28" font-size="4.07">2</tspan><tspan dy="-1.28"> + 20 µM ISO</tspan></text>
<text class="b" transform="translate(331.15 280.10) rotate(-45)" font-size="5.82" text-anchor="end" fill="#000" stroke="#000" stroke-width="0.2">H<tspan dy="1.28" font-size="4.07">2</tspan><tspan dy="-1.28">O</tspan><tspan dy="1.28" font-size="4.07">2</tspan><tspan dy="-1.28"> + 40 µM ISO</tspan></text>
<text class="b" transform="translate(355.05 280.10) rotate(-45)" font-size="5.82" text-anchor="end" fill="#000" stroke="#000" stroke-width="0.2">H<tspan dy="1.28" font-size="4.07">2</tspan><tspan dy="-1.28">O</tspan><tspan dy="1.28" font-size="4.07">2</tspan><tspan dy="-1.28"> + 60 µM ISO</tspan></text>
<rect x="373.70" y="194.10" width="9.20" height="4.60" fill="#585858" stroke="#000" stroke-width="1.00"/>
<text class="s" x="387.10" y="198.63" font-size="6.20" fill="#000" stroke="#000" stroke-width="0.1">Control</text>
<rect x="373.70" y="203.30" width="9.20" height="4.60" fill="#d2d2d2" stroke="#000" stroke-width="1.00"/>
<text class="s" x="387.10" y="207.83" font-size="6.20" fill="#000" stroke="#000" stroke-width="0.1">H<tspan dy="1.36" font-size="4.34">2</tspan><tspan dy="-1.36">O</tspan><tspan dy="1.36" font-size="4.34">2</tspan><tspan dy="-1.36"></tspan></text>
<rect x="373.70" y="212.50" width="9.20" height="4.60" fill="#fff" stroke="#000" stroke-width="1.00"/>
<path d="M373.70 214.80h9.20" stroke="#111" stroke-width="1.3"/>
<text class="s" x="387.10" y="217.03" font-size="6.20" fill="#000" stroke="#000" stroke-width="0.1">H<tspan dy="1.36" font-size="4.34">2</tspan><tspan dy="-1.36">O</tspan><tspan dy="1.36" font-size="4.34">2</tspan><tspan dy="-1.36"> + 20 µM ISO</tspan></text>
<rect x="373.70" y="221.70" width="9.20" height="4.60" fill="url(#pverb)" stroke="#000" stroke-width="1.00"/>
<text class="s" x="387.10" y="226.23" font-size="6.20" fill="#000" stroke="#000" stroke-width="0.1">H<tspan dy="1.36" font-size="4.34">2</tspan><tspan dy="-1.36">O</tspan><tspan dy="1.36" font-size="4.34">2</tspan><tspan dy="-1.36"> + 40 µM ISO</tspan></text>
<rect x="373.70" y="230.90" width="9.20" height="4.60" fill="url(#pdiabe)" stroke="#000" stroke-width="1.00"/>
<text class="s" x="387.10" y="235.43" font-size="6.20" fill="#000" stroke="#000" stroke-width="0.1">H<tspan dy="1.36" font-size="4.34">2</tspan><tspan dy="-1.36">O</tspan><tspan dy="1.36" font-size="4.34">2</tspan><tspan dy="-1.36"> + 60 µM ISO</tspan></text>
<text class="s" x="281.00" y="197.17" font-size="7.8" text-anchor="middle" fill="#000" stroke="#000" stroke-width="0.2">#</text>
<text class="b" x="305.70" y="222.62" font-size="9.4" text-anchor="middle" fill="#000">*</text>
<text class="b" x="329.40" y="241.42" font-size="9.4" text-anchor="middle" fill="#000">*</text>
<text class="b" x="353.30" y="243.82" font-size="9.4" text-anchor="middle" fill="#000">*</text>
</g>
<g>
<text class="r" transform="translate(455.6 177.7) scale(1.30 1)" font-size="18.5" fill="#1c1c1c">f</text>
<path d="M486.15 206.30V205.21M481.80 205.21H490.50" stroke="#000" stroke-width="1.2" fill="none"/>
<rect x="478.55" y="206.85" width="15.20" height="66.85" fill="#585858" stroke="#000" stroke-width="1.10"/>
<path d="M486.15 273.70V276.10" stroke="#222" stroke-width="0.8"/>
<path d="M509.80 258.24V257.87M505.45 257.87H514.15" stroke="#000" stroke-width="1.2" fill="none"/>
<rect x="502.15" y="258.79" width="15.30" height="14.91" fill="#d2d2d2" stroke="#000" stroke-width="1.10"/>
<path d="M509.80 273.70V276.10" stroke="#222" stroke-width="0.8"/>
<path d="M533.65 247.53V247.30M529.30 247.30H538.00" stroke="#000" stroke-width="1.2" fill="none"/>
<rect x="525.95" y="248.08" width="15.40" height="25.62" fill="#fff"/>
<path d="M525.90 251h15.50v1.00h-15.50zM525.90 254h15.50v1.00h-15.50zM525.90 257h15.50v1.00h-15.50zM525.90 260h15.50v1.00h-15.50zM525.90 263h15.50v1.00h-15.50zM525.90 266h15.50v1.00h-15.50zM525.90 269h15.50v1.00h-15.50zM525.90 272h15.50v1.00h-15.50z" fill="#000"/>
<rect x="525.95" y="248.08" width="15.40" height="25.62" fill="none" stroke="#000" stroke-width="1.10"/>
<path d="M533.65 273.70V276.10" stroke="#222" stroke-width="0.8"/>
<path d="M557.60 246.47V246.18M553.25 246.18H561.95" stroke="#000" stroke-width="1.2" fill="none"/>
<rect x="549.75" y="247.02" width="15.70" height="26.68" fill="url(#pverb)" stroke="#000" stroke-width="1.10"/>
<path d="M557.60 273.70V276.10" stroke="#222" stroke-width="0.8"/>
<path d="M581.60 253.48V249.75M577.25 249.75H585.95" stroke="#000" stroke-width="1.2" fill="none"/>
<rect x="573.85" y="254.03" width="15.50" height="19.67" fill="url(#pdiabf)" stroke="#000" stroke-width="1.10"/>
<path d="M581.60 273.70V276.10" stroke="#222" stroke-width="0.8"/>
<path d="M474.10 194.00V273.70H593.80" stroke="#000" stroke-width="1" fill="none"/>
<path d="M471.50 273.70H474.10" stroke="#000" stroke-width="0.9"/>
<text class="b" transform="translate(471.40 275.73) scale(0.85 1)" font-size="6.20" text-anchor="end" fill="#000" stroke="#000" stroke-width="0.2">0</text>
<path d="M471.50 247.27H474.10" stroke="#000" stroke-width="0.9"/>
<text class="b" transform="translate(471.40 249.30) scale(0.85 1)" font-size="6.20" text-anchor="end" fill="#000" stroke="#000" stroke-width="0.2">20</text>
<path d="M471.50 220.83H474.10" stroke="#000" stroke-width="0.9"/>
<text class="b" transform="translate(471.40 222.87) scale(0.85 1)" font-size="6.20" text-anchor="end" fill="#000" stroke="#000" stroke-width="0.2">40</text>
<path d="M471.50 194.40H474.10" stroke="#000" stroke-width="0.9"/>
<text class="b" transform="translate(471.40 196.43) scale(0.85 1)" font-size="6.20" text-anchor="end" fill="#000" stroke="#000" stroke-width="0.2">60</text>
<text class="b" transform="translate(459.20 235.10) rotate(-90)" font-size="6.75" text-anchor="middle" fill="#000" stroke="#000" stroke-width="0.2">SOD (U/mg prot)</text>
<text class="b" transform="translate(487.95 283.40) rotate(-45)" font-size="5.95" text-anchor="end" fill="#000" stroke="#000" stroke-width="0.2">Control</text>
<text class="b" transform="translate(511.60 283.40) rotate(-45)" font-size="5.95" text-anchor="end" fill="#000" stroke="#000" stroke-width="0.2">H<tspan dy="1.31" font-size="4.17">2</tspan><tspan dy="-1.31">O</tspan><tspan dy="1.31" font-size="4.17">2</tspan><tspan dy="-1.31"></tspan></text>
<text class="b" transform="translate(535.45 283.40) rotate(-45)" font-size="5.95" text-anchor="end" fill="#000" stroke="#000" stroke-width="0.2">H<tspan dy="1.31" font-size="4.17">2</tspan><tspan dy="-1.31">O</tspan><tspan dy="1.31" font-size="4.17">2</tspan><tspan dy="-1.31">+ 20 µM ISO</tspan></text>
<text class="b" transform="translate(559.40 283.40) rotate(-45)" font-size="5.95" text-anchor="end" fill="#000" stroke="#000" stroke-width="0.2">H<tspan dy="1.31" font-size="4.17">2</tspan><tspan dy="-1.31">O</tspan><tspan dy="1.31" font-size="4.17">2</tspan><tspan dy="-1.31">+ 40 µM ISO</tspan></text>
<text class="b" transform="translate(583.40 283.40) rotate(-45)" font-size="5.95" text-anchor="end" fill="#000" stroke="#000" stroke-width="0.2">H<tspan dy="1.31" font-size="4.17">2</tspan><tspan dy="-1.31">O</tspan><tspan dy="1.31" font-size="4.17">2</tspan><tspan dy="-1.31">+ 60 µM ISO</tspan></text>
<rect x="601.60" y="197.90" width="8.80" height="4.60" fill="#585858" stroke="#000" stroke-width="1.00"/>
<text class="s" x="615.00" y="202.50" font-size="6.40" fill="#000" stroke="#000" stroke-width="0.1">Control</text>
<rect x="601.60" y="207.10" width="8.80" height="4.60" fill="#d2d2d2" stroke="#000" stroke-width="1.00"/>
<text class="s" x="615.00" y="211.70" font-size="6.40" fill="#000" stroke="#000" stroke-width="0.1">H<tspan dy="1.41" font-size="4.48">2</tspan><tspan dy="-1.41">O</tspan><tspan dy="1.41" font-size="4.48">2</tspan><tspan dy="-1.41"></tspan></text>
<rect x="601.60" y="216.30" width="8.80" height="4.60" fill="#fff" stroke="#000" stroke-width="1.00"/>
<path d="M601.60 218.60h8.80" stroke="#111" stroke-width="1.3"/>
<text class="s" x="615.00" y="220.90" font-size="6.40" fill="#000" stroke="#000" stroke-width="0.1">H<tspan dy="1.41" font-size="4.48">2</tspan><tspan dy="-1.41">O</tspan><tspan dy="1.41" font-size="4.48">2</tspan><tspan dy="-1.41">+ 20 µM ISO</tspan></text>
<rect x="601.60" y="225.50" width="8.80" height="4.60" fill="url(#pverb)" stroke="#000" stroke-width="1.00"/>
<text class="s" x="615.00" y="230.10" font-size="6.40" fill="#000" stroke="#000" stroke-width="0.1">H<tspan dy="1.41" font-size="4.48">2</tspan><tspan dy="-1.41">O</tspan><tspan dy="1.41" font-size="4.48">2</tspan><tspan dy="-1.41">+ 40 µM ISO</tspan></text>
<rect x="601.60" y="234.70" width="8.80" height="4.60" fill="url(#pdiabf)" stroke="#000" stroke-width="1.00"/>
<text class="s" x="615.00" y="239.30" font-size="6.40" fill="#000" stroke="#000" stroke-width="0.1">H<tspan dy="1.41" font-size="4.48">2</tspan><tspan dy="-1.41">O</tspan><tspan dy="1.41" font-size="4.48">2</tspan><tspan dy="-1.41">+ 60 µM ISO</tspan></text>
<text class="s" x="509.60" y="254.07" font-size="7.8" text-anchor="middle" fill="#000" stroke="#000" stroke-width="0.2">#</text>
<text class="b" x="533.90" y="246.32" font-size="9.4" text-anchor="middle" fill="#000">*</text>
<text class="b" x="557.70" y="246.12" font-size="9.4" text-anchor="middle" fill="#000">*</text>
<text class="b" x="581.10" y="249.22" font-size="9.4" text-anchor="middle" fill="#000">*</text>
</g>
</g>
</svg></body></html>
